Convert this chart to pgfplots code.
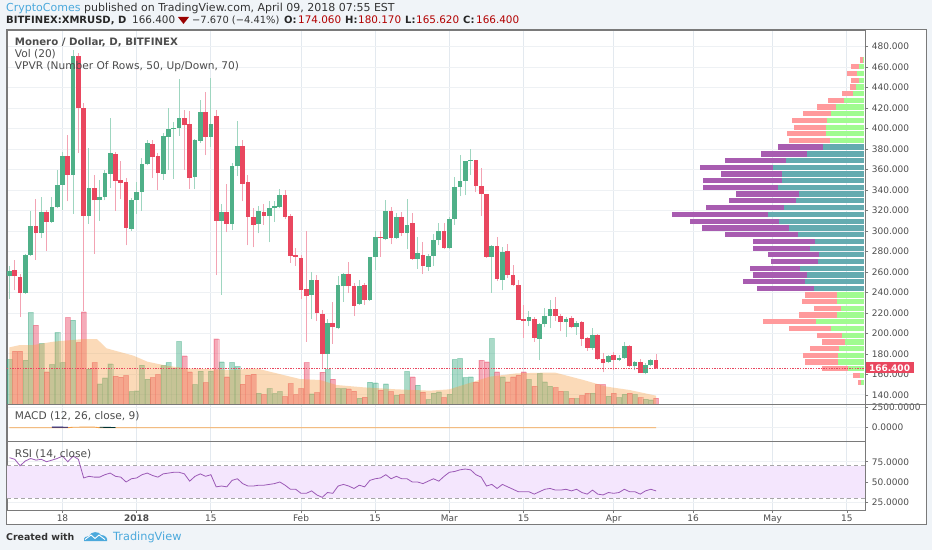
\documentclass[border=0pt]{standalone}
\usepackage{pgfplots}
\usepackage{pgfplotstable}
\usepackage{fontspec}
\setmainfont{DejaVu Sans}
\pgfplotsset{compat=1.18}
\definecolor{bgc}{HTML}{F0F4F8}
\definecolor{upc}{HTML}{4FB088}
\definecolor{dnc}{HTML}{E9475F}
\definecolor{upw}{HTML}{9FD6C0}
\definecolor{dnw}{HTML}{F3A3B3}
\definecolor{volu}{HTML}{35A87D}
\definecolor{vold}{HTML}{E8395A}
\definecolor{maor}{HTML}{F5A046}
\definecolor{vaup}{HTML}{64ABB0}
\definecolor{vadn}{HTML}{A85CB0}
\definecolor{oaup}{HTML}{A0FB90}
\definecolor{oadn}{HTML}{FF9A9C}
\definecolor{txt}{HTML}{4D4D4D}
\definecolor{frm}{HTML}{7A7A7A}
\definecolor{tvb}{HTML}{4BA9DC}
\definecolor{rsic}{HTML}{9B59B6}
\definecolor{rsib}{HTML}{F4E6FD}
\definecolor{HGRID}{HTML}{E3E9EF}
\definecolor{VGRID}{HTML}{EEF1F4}
\pgfplotstableread{
d o h l c v
-10 256 266 234 261 134
-7 240 278 239 277 132
-6 277 320 276 305 275
-4 298 333 293 319 182
-2 309 333 308 323 119
-1 323 360 322 345 215
0 345 377 321 373 125
2 355 477 317 471 252
5 315 381 307 342 105
7 330 350 310 333 61
8 333 360 330 357 79
9 356 410 342 376 121
13 302 332 300 330 38
14 330 348 317 338 40
15 338 371 320 365 117
16 365 389 364 386 75
19 356 396 350 393 116
20 392 420 360 400 125
21 400 406 351 401 107
22 401 448 393 410 188
25 353 390 341 389 59
26 388 428 386 416 99
28 392 449 382 404 99
30 310 326 238 319 127
32 307 366 301 363 125
33 363 407 354 383 113
37 307 324 298 320 33
39 315 329 289 322 47
40 322 329 309 324 32
41 323 341 322 335 38
47 238 260 214 252 31
50 180 214 162 210 104
52 205 256 204 247 47
53 246 259 231 258 47
56 229 252 228 246 18
58 233 275 232 275 66
59 275 300 262 294 64
61 292 330 291 320 61
63 293 318 292 314 27
65 298 331 282 306 98
67 273 294 263 279 57
69 265 278 261 276 14
70 276 297 266 291 33
71 291 308 286 300 37
73 283 314 282 312 30
74 312 353 306 343 134
75 343 374 334 349 137
76 349 368 335 368 80
77 368 380 355 369 82
81 275 286 240 285 197
83 252 284 242 280 82
88 212 222 207 216 74
90 195 210 174 209 92
91 209 225 206 217 67
92 217 233 205 224 54
95 211 216 197 214 38
97 206 212 199 210 17
100 186 205 184 199 33
103 172 179 171 178 24
105 174 179 173 176 20
106 176 192 175 188 30
108 168 173 164 172 29
110 161 171 160 169 15
111 169 175 168 174 13
}\candup
\pgfplotstableread{
d o h l c v
-9 262 272 242 256 159
-8 255 258 216 240 159
-5 305 331 272 298 237
-3 319 321 281 309 97
1 373 394 329 355 260
3 471 474 376 420 185
4 420 425 222 315 277
6 342 355 278 330 125
10 375 377 320 349 84
11 350 368 331 347 81
12 348 352 286 303 86
17 385 389 352 372 80
18 373 376 340 357 89
23 410 418 360 403 145
24 404 417 341 352 97
27 416 436 374 392 65
29 412 418 257 310 196
31 319 346 299 307 82
34 383 389 329 346 60
35 348 355 286 314 87
36 314 322 284 306 90
38 319 326 306 315 29
42 335 340 312 314 23
43 315 317 269 276 62
44 277 283 266 275 29
45 274 277 234 242 47
46 243 300 192 237 125
48 252 257 212 220 35
49 219 223 166 180 96
51 210 231 190 206 75
54 258 270 240 246 46
55 246 249 217 227 39
57 247 249 228 233 21
60 294 300 275 293 42
62 320 323 287 293 38
64 314 319 295 298 29
66 308 318 272 273 82
68 277 289 258 266 36
72 300 308 282 283 20
78 369 369 338 344 66
79 344 362 315 336 132
80 336 336 274 275 127
82 285 294 251 253 97
84 281 287 254 257 67
85 257 267 246 247 82
86 247 252 213 213 87
87 214 228 196 212 97
89 214 216 192 196 54
93 224 236 212 217 50
94 217 219 202 211 39
96 215 217 205 206 18
98 211 212 188 195 26
99 196 197 183 186 33
101 199 200 174 175 59
102 175 181 162 171 59
104 179 182 164 174 33
107 188 189 167 168 33
109 172 175 161 161 20
112 174.06 180.17 165.62 166.4 18
}\canddn
\pgfplotstableread{
p u t
466.9 2 11
460.4 15 38
453.9 20 50
447.1 15 40
440.6 25 42
434.1 32 67
427.6 59 108
421.1 84 142
414.5 98 184
408 110 216
401.2 115 209
395 115 232
388.5 102 225
237.6 80 177
231.1 82 185
224.6 69 150
218.1 80 194
211.6 145 302
205.1 99 224
198.2 67 141
191.7 56 125
185.2 74 163
178.7 78 183
172.2 79 178
165.7 48 125
159.2 12 34
152.4 9 19
}\vpout
\pgfplotstableread{
p u t
382 123 258
375.2 170 309
368.7 234 418
362.2 272 492
355.7 245 429
349.2 247 484
342.7 258 483
336.1 194 383
329.6 203 404
322.8 240 474
316.3 288 577
309.5 255 523
303 224 485
296.5 198 418
290 146 334
283.2 161 332
277 134 287
270.1 139 279
263.6 192 341
257.1 172 332
250.6 177 364
244.1 150 321
}\vpin
\pgfplotstableread{
d r
-10 80
-9 78
-8 70
-7 76
-6 79
-5 77
-4 78
-3 75
-2 77
-1 79
0 82
1 75
2 82
3 78
4 55
5 57
6 56
7 56
8 59
9 61
10 57
11 56
12 50
13 54
14 55
15 59
16 61
17 58
18 56
19 60
20 61
21 62
22 62
23 60
24 51
25 57
26 60
27 57
28 59
29 44
30 45
31 44
32 52
33 54
34 48
35 45
36 45
37 46
38 46
39 47
40 48
41 50
42 46
43 41
44 41
45 36
46 36
47 39
48 34
49 31
50 37
51 36
52 45
53 47
54 45
55 42
56 46
57 44
58 52
59 54
60 55
61 59
62 54
63 57
64 54
65 54
66 50
67 50
68 48
69 51
70 54
71 51
72 57
73 62
74 63
75 65
76 66
77 65
78 59
79 56
80 45
81 47
82 42
83 47
84 44
85 41
86 38
87 38
88 38
89 35
90 38
91 41
92 42
93 40
94 40
95 41
96 39
97 41
98 37
99 35
100 40
101 35
102 34
103 37
104 36
105 37
106 41
107 38
108 38
109 35
110 39
111 41
112 39
}\rsitab
\newcommand{\lab}{\fontsize{9}{9}\selectfont}
\pgfplotsset{
  tv/.style={
    scale only axis, width=858.3pt, xmin=-10.47, xmax=151.47,
    anchor=south west, clip mode=individual,
    xtick={0,14,28,45,59,73,87,104,119,134,148},
    xmajorgrids, ymajorgrids,
    x grid style={draw=HGRID, line width=1pt},
    y grid style={draw=VGRID, line width=1pt},
    axis line style={draw=frm, line width=0.9pt},
    ytick pos=right, yticklabel pos=right, tick align=outside,
    xtick pos=bottom,
    major tick length=3pt,
    tick style={draw=frm, line width=0.6pt},
    /pgf/number format/assume math mode=true,
    /pgf/number format/fixed, /pgf/number format/fixed zerofill,
    /pgf/number format/1000 sep={},
    scaled y ticks=false,
    ticklabel style={font=\lab, text=txt},
  },
}
\begin{document}
\begin{tikzpicture}[x=1pt,y=1pt]
\fill[bgc] (0,0) rectangle (932,550);
\fill[white] (6.5,26) rectangle (926,520);
\draw[frm,line width=1pt] (6.5,26) rectangle (926,520);
% header
\node[anchor=base west,inner sep=0pt,font=\fontsize{11}{12}\selectfont] at (6,538.3) {\textcolor{tvb}{CryptoComes}\ \textcolor{black!80}{published on TradingView.com, April 09, 2018 07:55 EST}};
\node[anchor=base west,inner sep=0pt,font=\fontsize{10}{11}\selectfont\bfseries] at (6,526) {\textcolor{black!85}{BITFINEX:XMRUSD, D}};
\node[anchor=base west,inner sep=0pt,font=\fontsize{10.4}{11}\selectfont] at (132,526) {\textcolor{black!80}{166.400}};
\fill[red!60!black] (178,533) -- (189,533) -- (183.5,526) -- cycle;
\node[anchor=base west,inner sep=0pt,font=\fontsize{9.9}{11}\selectfont] at (192,526) {\textcolor{black!80}{−7.670 (−4.41\%)}};
\foreach \xa/\la/\xb/\vb in {284/O:/298/174.060,345/H:/358/180.170,405/L:/416/165.620,463/C:/476/166.400}{
\node[anchor=base west,inner sep=0pt,font=\fontsize{10}{11}\selectfont\bfseries] at (\xa,526) {\textcolor{black!85}{\la}};
\node[anchor=base west,inner sep=0pt,font=\fontsize{10.4}{11}\selectfont] at (\xb,526) {\textcolor{red!70!black}{\vb}};
}
% main pane
\begin{axis}[tv, at={(7pt,146pt)}, height=374pt, ymin=131.2, ymax=496.2,
  ytick={140,160,...,480}, xticklabels={}, xtick style={draw=none},
  yticklabel style={/pgf/number format/precision=3}]
\addplot[ybar, bar shift=0pt, bar width=5pt, fill=volu, fill opacity=.42, draw=volu, draw opacity=.3, line width=.3pt]
  table[x=d, y expr=131.2+\thisrow{v}*0.3253] {\candup};
\addplot[ybar, bar shift=0pt, bar width=5pt, fill=vold, fill opacity=.42, draw=vold, draw opacity=.3, line width=.3pt]
  table[x=d, y expr=131.2+\thisrow{v}*0.3253] {\canddn};
\addplot[fill=maor, fill opacity=.38, draw=none] table[x=d, y expr=131.2+\thisrow{m}*0.3253] {
d m
-10 170
-8 177
-5.5 177
-1.7 187
4 195
6.5 195
8.3 167
13.4 145
16 127
19.6 115
23.5 107
32 102
36.6 107
40.4 92
44.8 75
48.6 72
51.7 57
56.8 50
63 44
69.3 40
73 44
75.6 57
80.6 82
85.7 92
90.7 94
93 94
98.3 72
102.7 52
107 42
112 25
} \closedcycle;
% VPVR
\addplot[draw=none, mark=none, error bars/.cd, x dir=minus, x explicit, error mark=none, error bar style={draw=oadn, line width=5.4pt}]
  table[x expr=151.2, y=p, x error expr=\thisrow{t}*0.0629] {\vpout};
\addplot[draw=none, mark=none, error bars/.cd, x dir=minus, x explicit, error mark=none, error bar style={draw=oaup, line width=5.4pt}]
  table[x expr=151.2, y=p, x error expr=\thisrow{u}*0.0629] {\vpout};
\addplot[draw=none, mark=none, error bars/.cd, x dir=minus, x explicit, error mark=none, error bar style={draw=vadn, line width=5.4pt}]
  table[x expr=151.2, y=p, x error expr=\thisrow{t}*0.0629] {\vpin};
\addplot[draw=none, mark=none, error bars/.cd, x dir=minus, x explicit, error mark=none, error bar style={draw=vaup, line width=5.4pt}]
  table[x expr=151.2, y=p, x error expr=\thisrow{u}*0.0629] {\vpin};
% wicks
\addplot[draw=none, mark=none, error bars/.cd, y dir=plus, y explicit, error mark=none, error bar style={draw=upw, line width=1pt}]
  table[x=d, y=l, y error expr=\thisrow{h}-\thisrow{l}] {\candup};
\addplot[draw=none, mark=none, error bars/.cd, y dir=plus, y explicit, error mark=none, error bar style={draw=dnw, line width=1pt}]
  table[x=d, y=l, y error expr=\thisrow{h}-\thisrow{l}] {\canddn};
% bodies
\addplot[draw=none, mark=none, error bars/.cd, y dir=plus, y explicit, error mark=none, error bar style={draw=upc, line width=4.7pt}]
  table[x=d, y=o, y error expr=\thisrow{c}-\thisrow{o}] {\candup};
\addplot[draw=none, mark=none, error bars/.cd, y dir=plus, y explicit, error mark=none, error bar style={draw=dnc, line width=4.7pt}]
  table[x=d, y=c, y error expr=\thisrow{o}-\thisrow{c}] {\canddn};
% last price
\addplot[draw=dnc, line width=.7pt, dash pattern=on 1.3pt off 1.3pt] coordinates {(-10.47,166.4) (151.47,166.4)};
\node[fill=dnc, text=white, font=\fontsize{9}{9}\selectfont\bfseries, anchor=west, minimum width=48pt, minimum height=11pt, inner sep=0pt] at (axis cs:151.47,166.4) {166.400};
\end{axis}
% MACD pane
\begin{axis}[tv, at={(7pt,109pt)}, height=37pt, ymin=-1662, ymax=2962,
  ytick={0,2500}, xticklabels={}, xtick style={draw=none},
  yticklabel style={/pgf/number format/precision=4}]
\addplot[draw=maor, line width=.9pt] coordinates {(-10,0)(1,0)(2,60)(6,70)(7,0)(112,0)};
\addplot[draw=black!60!blue, line width=.9pt] coordinates {(-2,70)(1,60)};
\addplot[draw=black!60!teal, line width=.9pt] coordinates {(7,60)(10,20)};
\end{axis}
% RSI pane
\begin{axis}[tv, at={(7pt,40pt)}, height=69pt, ymin=15.4, ymax=100.6,
  ytick={25,50,75}, xtick style={draw=frm},
  xticklabels={18,\textbf{2018},15,Feb,15,Mar,15,Apr,16,May,15},
  xticklabel style={yshift=2pt},
  yticklabel style={/pgf/number format/precision=4}]
\addplot[fill=rsib, draw=none] coordinates {(-10.47,30)(-10.47,70)(151.47,70)(151.47,30)} --cycle;
\addplot[draw=black!35, line width=.6pt, dash pattern=on 4pt off 3pt] coordinates {(-10.47,70)(151.47,70)};
\addplot[draw=black!35, line width=.6pt, dash pattern=on 4pt off 3pt] coordinates {(-10.47,30)(151.47,30)};
\addplot[draw=rsic, line width=.8pt] table[x=d,y=r] {\rsitab};
\end{axis}
\draw[frm,line width=.9pt] (865.3,146) -- (926,146);
% pane legends
\node[anchor=base west,inner sep=0pt,font=\fontsize{10.2}{11}\selectfont\bfseries,text=txt] at (14.7,504) {Monero / Dollar, D, BITFINEX};
\node[anchor=base west,inner sep=0pt,font=\fontsize{10.6}{11}\selectfont,text=txt] at (14.7,492.3) {Vol (20)};
\node[anchor=base west,inner sep=0pt,font=\fontsize{10.6}{11}\selectfont,text=txt] at (14.7,480) {VPVR (Number Of Rows, 50, Up/Down, 70)};
\node[anchor=base west,inner sep=0pt,font=\fontsize{10.6}{11}\selectfont,text=txt] at (14.7,130.3) {MACD (12, 26, close, 9)};
\node[anchor=base west,inner sep=0pt,font=\fontsize{10.6}{11}\selectfont,text=txt] at (14.7,92.3) {RSI (14, close)};
% footer
\node[anchor=base west,inner sep=0pt,font=\fontsize{9.4}{10}\selectfont\bfseries,text=black!80] at (6,9.5) {Created with};
\fill[tvb] (84,9) .. controls (83,13) and (87,14) .. (89,14) .. controls (91,19) and (99,19) .. (101,15) .. controls (105,15) and (108,12) .. (107,9) -- cycle;
\draw[white,line width=.9pt] (85,10.5) -- (91,15) -- (95,11.5) -- (99,15) -- (105,10.5);
\node[anchor=base west,inner sep=0pt,font=\fontsize{11.3}{12}\selectfont,text=tvb] at (113,9.5) {TradingView};
\end{tikzpicture}
\end{document}
